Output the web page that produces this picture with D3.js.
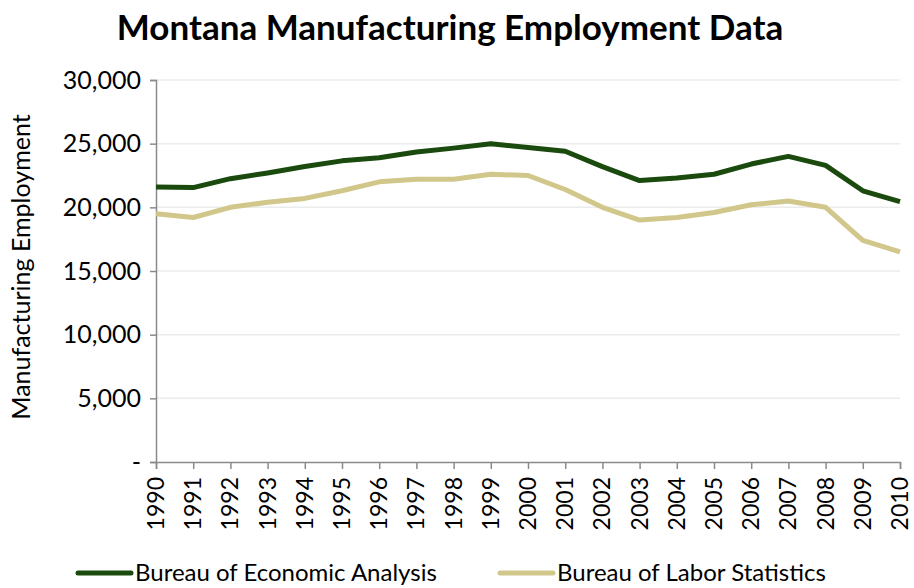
<!DOCTYPE html>
<html>
<head>
<meta charset="utf-8">
<script src="https://cdn.jsdelivr.net/npm/d3@7"></script>
<style>
    body { margin: 0; background: #fff; }
    #chart { width: 914px; height: 588px; }
    text { font-family: Lato, "Open Sans", sans-serif; fill: #000; }
</style>
</head>
<body>
<div id="chart"></div>
<script>
const years = d3.range(1990, 2011);
const beaValues = [21600, 21550, 22250, 22700, 23200, 23650, 23900, 24350, 24650, 25000, 24700,
    24400, 23200, 22100, 22300, 22600, 23400, 24000, 23300, 21300, 20450];
const blsValues = [19500, 19200, 20000, 20400, 20700, 21300, 22000, 22200, 22200, 22600, 22500,
    21400, 20000, 19000, 19200, 19600, 20200, 20500, 20000, 17400, 16500];
const yTicks = [0, 5000, 10000, 15000, 20000, 25000, 30000];
const seriesNames = ['Bureau of Economic Analysis', 'Bureau of Labor Statistics'];
const seriesColors = ['#1a4a0e', '#d2c78b'];

const width = 914;
const height = 588;
const margin = { top: 80, right: 14, bottom: 126, left: 156 };
const innerW = width - margin.left - margin.right;
const innerH = height - margin.top - margin.bottom;

const svg = d3.select('#chart')
    .append('svg')
    .attr('width', width)
    .attr('height', height);

svg.append('text')
    .attr('x', 450)
    .attr('y', 40)
    .attr('text-anchor', 'middle')
    .style('font-size', '35px')
    .style('font-weight', 'bold')
    .text('Montana Manufacturing Employment Data');

const g = svg.append('g')
    .attr('transform', `translate(${margin.left},${margin.top})`);

const x = d3.scalePoint()
    .domain(years)
    .range([0, innerW]);

const y = d3.scaleLinear()
    .domain([0, 30000])
    .range([innerH, 0]);

// grid
g.append('g')
    .selectAll('line')
    .data(yTicks.slice(1))
    .enter()
    .append('line')
    .attr('x1', 0)
    .attr('x2', innerW)
    .attr('y1', d => y(d))
    .attr('y2', d => y(d))
    .attr('stroke', '#ececec')
    .attr('stroke-width', 1.5);

// y axis
const yAxis = d3.axisLeft(y)
    .tickValues(yTicks)
    .tickSize(6)
    .tickPadding(9)
    .tickFormat(d => d === 0 ? '-' : d3.format(',')(d));
const yG = g.append('g').call(yAxis);
yG.select('.domain').attr('stroke', '#8a8a8a').attr('stroke-width', 1.5);
yG.selectAll('.tick line').attr('stroke', '#8a8a8a').attr('stroke-width', 1.5);
yG.selectAll('.tick text').style('font-size', '25px').style('font-family', 'Lato, sans-serif');

// x axis, labels turned upright
const xAxis = d3.axisBottom(x)
    .tickSize(7);
const xG = g.append('g')
    .attr('transform', `translate(0,${innerH})`)
    .call(xAxis);
xG.select('.domain').attr('stroke', '#8a8a8a').attr('stroke-width', 1.5);
xG.selectAll('.tick line').attr('stroke', '#8a8a8a').attr('stroke-width', 1.5);
xG.selectAll('.tick text')
    .style('font-size', '23px')
    .style('font-family', 'Lato, sans-serif')
    .attr('text-anchor', 'end')
    .attr('transform', 'rotate(-90)')
    .attr('x', -15)
    .attr('y', 0)
    .attr('dy', '0.33em');

svg.append('text')
    .attr('transform', `translate(30,${margin.top + innerH / 2 - 4}) rotate(-90)`)
    .attr('text-anchor', 'middle')
    .style('font-size', '25px')
    .text('Manufacturing Employment');

// lines
const line = d3.line()
    .x((d, i) => x(years[i]))
    .y(d => y(d));

[beaValues, blsValues].forEach((values, i) => {
    g.append('path')
        .datum(values)
        .attr('fill', 'none')
        .attr('stroke', seriesColors[i])
        .attr('stroke-width', 5)
        .attr('stroke-linejoin', 'round')
        .attr('d', line);
});

// legend
const legendX = [78, 500];
const legend = svg.append('g')
    .selectAll('g')
    .data(seriesNames)
    .enter()
    .append('g')
    .attr('transform', (d, i) => `translate(${legendX[i]},573)`);
legend.append('line')
    .attr('x1', 0)
    .attr('x2', 53)
    .attr('stroke', (d, i) => seriesColors[i])
    .attr('stroke-width', 5)
    .attr('stroke-linecap', 'round');
legend.append('text')
    .attr('x', 57)
    .attr('dy', '0.35em')
    .style('font-size', '24px')
    .text(d => d);
</script>
</body>
</html>
